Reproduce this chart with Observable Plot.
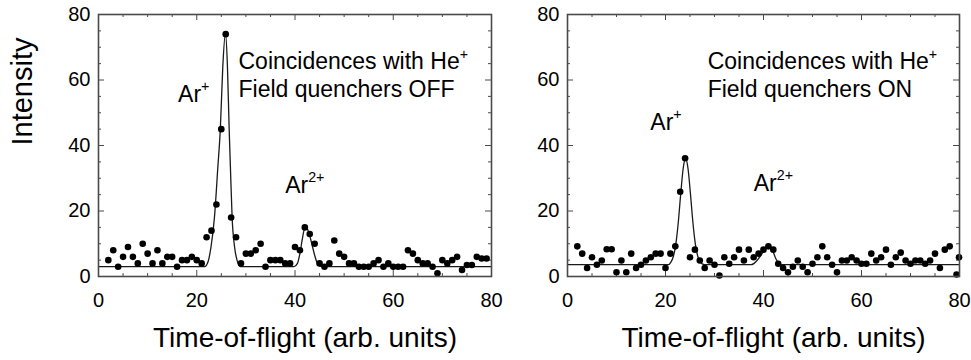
<!DOCTYPE html>
<html><head><meta charset="utf-8">
<script src="https://cdn.jsdelivr.net/npm/d3@7"></script>
<script src="https://cdn.jsdelivr.net/npm/@observablehq/plot@0.6"></script>
<style>
body{margin:0;background:#fff;}
#wrap{position:relative;width:971px;height:360px;overflow:hidden;}
.panel{position:absolute;top:0;}
</style></head><body>
<div id="wrap"><div id="p1" class="panel" style="left:0;width:520px"></div><div id="p2" class="panel" style="left:500px;width:471px"></div></div>
<script>
// ---- data: quenchers OFF ----
const offX = [2,3,4,5,6,7,8,9,10,11,12,13,14,15,16,17,18,19,20,21,22,23,24,25,25.9,27,28,29,30,31,32,33,34,35,36,37,38,39,40,41,42,43,44,45,46,47,48,49,50,51,52,53,54,55,56,57,58,59,60,61,62,63,64,65,66,67,68,69,70,71,72,73,74,75,76,77,78,79];
const offY = [5,8,3,6,9,6,4,10,7,4,8,4,6,6,3,5,5,6,5,4,12,14,22,45,74,18,12,4,7,7,8,10,3,5,5,5,4,4,9,8,15,13,10,4,3,4,11,7,6,4,4,3,3,3,4,5,3,4,3,3,3,8,7,5,4,4,3,1,5,4,5,6,2,3.5,3.5,6,5.5,5.5];
const fitOffX = [0,21.6,22.3,22.9,23.6,24.3,24.8,25.3,25.85,26.25,26.6,26.85,27.2,27.7,28.2,28.9,39.8,40.5,41,41.5,42,42.5,43,43.5,44,44.5,45,45.6,80];
const fitOffY = [3,3,4.5,9,18,33.5,45,64,74.4,64,45,33.5,18,9,5,3,3,4,7,11.5,14.8,14.5,12.5,9.5,6.5,4.2,3.2,3,3];
// ---- data: quenchers ON ----
const onX = [2,3,4,5,6,7,8,9,10,11,12,13,14,15,16,17,18,19,20,21,22,23,24,25,26,27,28,29,30,31,32,33,34,35,36,37,38,39,40,41,42,43,44,45,46,47,48,49,50,51,52,53,54,55,56,57,58,59,60,61,62,63,64,65,66,67,68,69,70,71,72,73,74,75,76,77,78,79.4,79.9];
const onY = [9.2,7,2.6,5.9,3.6,4.9,8.3,8.3,1.3,4.9,1.3,7,2.6,3.6,4.9,5.9,7,7,2.6,7,9.2,25.9,36.1,5.9,8.2,4.9,2.6,4.9,3.6,0.3,5.9,3.9,5.9,8.2,4.9,8.2,5.9,7,8.2,9.2,8.2,3.9,2.6,1.3,3,4.9,3,1.3,3.9,5.9,9.2,5.9,3.6,1.3,4.9,4.9,5.9,4.9,3.9,3.9,7,4.9,5.9,8.2,3.6,5.9,7.3,4.9,3.9,4.9,4.9,3.9,4.9,7,2.6,8.2,9.2,0.6,5.9];
const fitOnX = [0,20.6,21.1,21.6,22.1,22.6,23.1,23.6,24.1,24.6,25.1,25.6,26.1,26.6,27.1,27.6,28.2,37.5,38.5,39.5,40.5,41.1,41.7,42.5,43.3,44,80];
const fitOnY = [3.6,3.6,4.4,6.1,9.8,16.4,25.1,32.9,36.1,32.9,25.1,16.4,9.8,6.1,4.4,3.8,3.6,3.6,4.6,6.5,8.8,9.5,8.5,5.5,3.8,3.6,3.6];
// ---- annotations ----
const offLabels = ["Coincidences with He^+", "Field quenchers OFF", "Ar^+", "Ar^2+"];
const offLabelX = [28.5, 28.5, 16.2, 38.0];
const offLabelY = [65.5, 57.2, 55.6, 27.9];
const onLabels = ["Coincidences with He^+", "Field quenchers ON", "Ar^+", "Ar^2+"];
const onLabelX = [28.6, 28.6, 16.9, 38.0];
const onLabelY = [65.5, 57.2, 47.1, 28.4];
const xTitle = "Time-of-flight (arb. units)";
const yTitle = "Intensity";
const minorTicks = [0,5,10,15,20,25,30,35,40,45,50,55,60,65,70,75,80];
const majorTicks = [0,20,40,60,80];

const FONT = "'Liberation Sans', Arial, Helvetica, sans-serif";
const H = 360, MT = 14, MB = 84;
const frameH = H - MT - MB;
const AX = "#4a4a4a";

function panel({dX, dY, fX, fY, labs, labX, labY, width, ml, mr, showYTitle}) {
  const frameW = width - ml - mr;
  const dots = dX.map((x, i) => ({x, y: dY[i]}));
  const fit = fX.map((x, i) => ({x, y: fY[i]}));
  const texts = labs.map((t, i) => ({t, x: labX[i], y: labY[i]}));
  const minor = minorTicks.filter(d => !majorTicks.includes(d));
  const tickMarks = [];
  for (const [vals, len] of [[minor, 3], [majorTicks, 6]]) {
    tickMarks.push(
      Plot.tickX(vals, {x: d => d, stroke: AX, strokeWidth: 1, insetTop: frameH - len}),
      Plot.tickX(vals, {x: d => d, stroke: AX, strokeWidth: 1, insetBottom: frameH - len}),
      Plot.tickY(vals, {y: d => d, stroke: AX, strokeWidth: 1, insetRight: frameW - len}),
      Plot.tickY(vals, {y: d => d, stroke: AX, strokeWidth: 1, insetLeft: frameW - len})
    );
  }
  const marks = [
    ...tickMarks,
    Plot.line(fit, {x: "x", y: "y", stroke: "#1a1a1a", strokeWidth: 1.3, curve: "monotone-x"}),
    Plot.dot(dots, {x: "x", y: "y", r: 3.3, fill: "#000", stroke: "none"}),
    Plot.text(texts, {x: "x", y: "y", text: "t", textAnchor: "start", fontSize: 23, fill: "#000"}),
    Plot.text([xTitle], {frameAnchor: "bottom", dy: 70, dx: 10, fontSize: 28, fill: "#000"}),
    Plot.frame({stroke: AX, strokeWidth: 1.6})
  ];
  if (showYTitle) marks.push(Plot.text([yTitle], {frameAnchor: "left", dx: -76, rotate: -90, fontSize: 29, fill: "#000"}));
  const svg = Plot.plot({
    width, height: H,
    marginLeft: ml, marginRight: mr, marginTop: MT, marginBottom: MB,
    style: {fontFamily: FONT, fontSize: "20px", background: "transparent", color: "#000", overflow: "visible"},
    x: {domain: [0, 80], ticks: 4, tickSize: 0, tickPadding: 16, label: null},
    y: {domain: [0, 80], ticks: 4, tickSize: 0, tickPadding: 8, label: null},
    marks
  });
  // superscripts
  svg.querySelectorAll("text").forEach(el => {
    const s = el.textContent;
    if (s.includes("^") && el.children.length === 0) {
      const [base, sup] = s.split("^");
      el.textContent = base;
      const ts = document.createElementNS("http://www.w3.org/2000/svg", "tspan");
      ts.setAttribute("font-size", "0.62em");
      ts.setAttribute("dy", "-0.75em");
      ts.textContent = sup;
      el.appendChild(ts);
    }
  });
  return svg;
}

document.getElementById("p1").appendChild(panel({dX: offX, dY: offY, fX: fitOffX, fY: fitOffY, labs: offLabels, labX: offLabelX, labY: offLabelY, width: 520, ml: 98, mr: 29, showYTitle: true}));
document.getElementById("p2").appendChild(panel({dX: onX, dY: onY, fX: fitOnX, fY: fitOnY, labs: onLabels, labX: onLabelX, labY: onLabelY, width: 471, ml: 67, mr: 12, showYTitle: false}));
</script>
</body></html>
